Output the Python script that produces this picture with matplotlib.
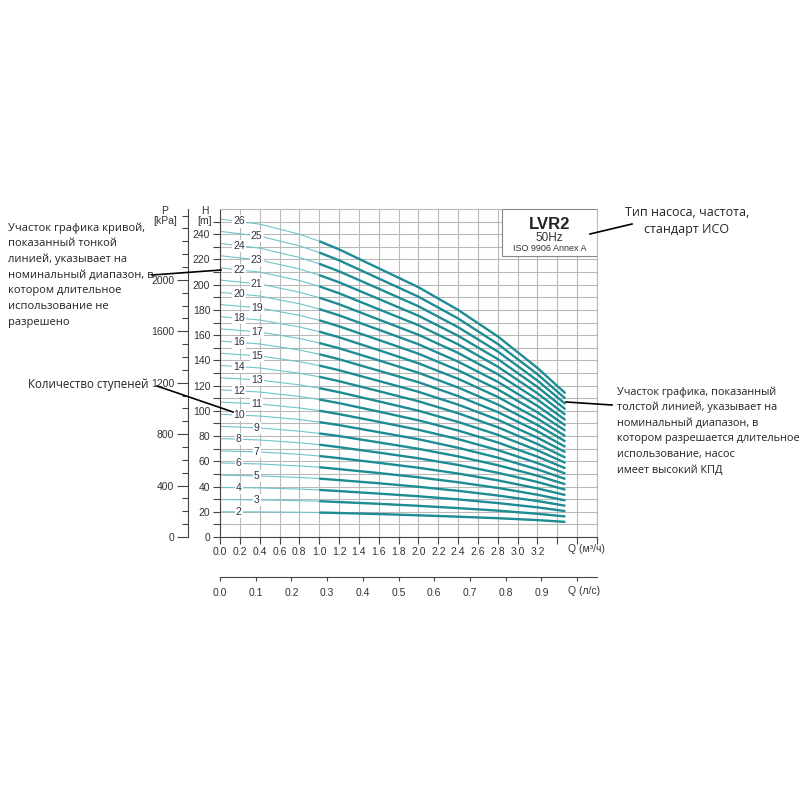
import numpy as np
import matplotlib
matplotlib.use("Agg")
import matplotlib.pyplot as plt
from matplotlib.lines import Line2D
from matplotlib.patches import Rectangle

q_points = [0.0, 0.4, 0.8, 1.0, 1.2, 1.6, 2.0, 2.4, 2.8, 3.2, 3.48]
q_thick_from = 1.0

stages = list(range(2, 27))
heads = [
	[20.0, 19.9, 19.6, 19.4, 19.0, 18.2, 17.2, 16.1, 14.9, 13.4, 12.0],
	[29.7, 29.4, 28.8, 28.4, 27.7, 26.3, 24.7, 22.9, 20.9, 18.4, 16.3],
	[39.3, 38.9, 38.0, 37.3, 36.4, 34.4, 32.3, 29.8, 26.9, 23.5, 20.5],
	[49.0, 48.4, 47.2, 46.3, 45.1, 42.6, 39.8, 36.6, 32.9, 28.5, 24.8],
	[58.7, 57.9, 56.3, 55.3, 53.8, 50.7, 47.3, 43.4, 38.9, 33.5, 29.0],
	[68.3, 67.4, 65.5, 64.2, 62.5, 58.8, 54.9, 50.3, 44.9, 38.5, 33.3],
	[78.0, 76.9, 74.7, 73.2, 71.2, 66.9, 62.4, 57.1, 50.9, 43.6, 37.5],
	[87.7, 86.4, 83.9, 82.1, 80.0, 75.0, 69.9, 63.9, 56.9, 48.6, 41.8],
	[97.3, 95.9, 93.1, 91.1, 88.7, 83.1, 77.5, 70.7, 62.9, 53.6, 46.0],
	[107.0, 105.4, 102.3, 100.1, 97.4, 91.3, 85.0, 77.6, 68.9, 58.6, 50.3],
	[116.7, 114.9, 111.4, 109.0, 106.1, 99.4, 92.5, 84.4, 74.9, 63.7, 54.5],
	[126.3, 124.4, 120.6, 118.0, 114.8, 107.5, 100.1, 91.2, 81.0, 68.7, 58.8],
	[136.0, 134.0, 129.8, 127.0, 123.5, 115.6, 107.6, 98.1, 87.0, 73.7, 63.0],
	[145.7, 143.5, 139.0, 135.9, 132.2, 123.7, 115.1, 104.9, 93.0, 78.7, 67.3],
	[155.3, 153.0, 148.2, 144.9, 140.9, 131.8, 122.7, 111.7, 99.0, 83.8, 71.5],
	[165.0, 162.5, 157.4, 153.8, 149.6, 140.0, 130.2, 118.5, 105.0, 88.8, 75.8],
	[174.7, 172.0, 166.5, 162.8, 158.3, 148.1, 137.7, 125.4, 111.0, 93.8, 80.0],
	[184.3, 181.5, 175.7, 171.8, 167.0, 156.2, 145.3, 132.2, 117.0, 98.8, 84.3],
	[194.0, 191.0, 184.9, 180.7, 175.7, 164.3, 152.8, 139.0, 123.0, 103.9, 88.5],
	[203.7, 200.5, 194.1, 189.7, 184.5, 172.4, 160.3, 145.9, 129.0, 108.9, 92.8],
	[213.3, 210.0, 203.3, 198.7, 193.2, 180.5, 167.9, 152.7, 135.0, 113.9, 97.0],
	[223.0, 219.5, 212.5, 207.6, 201.9, 188.7, 175.4, 159.5, 141.0, 118.9, 101.3],
	[232.7, 229.0, 221.6, 216.6, 210.6, 196.8, 182.9, 166.3, 147.0, 124.0, 105.5],
	[242.3, 238.5, 230.8, 225.5, 219.3, 204.9, 190.5, 173.2, 153.0, 129.0, 109.8],
	[252.0, 248.0, 240.0, 234.5, 228.0, 213.0, 198.0, 180.0, 159.0, 134.0, 114.0],
]

q_ticks = [0.0, 0.2, 0.4, 0.6, 0.8, 1.0, 1.2, 1.4, 1.6, 1.8, 2.0, 2.2, 2.4, 2.6, 2.8, 3.0, 3.2, 3.4, 3.6, 3.8]
q_labels = ["0.0", "0.2", "0.4", "0.6", "0.8", "1.0", "1.2", "1.4", "1.6", "1.8", "2.0", "2.2", "2.4", "2.6", "2.8", "3.0", "3.2", "", "", ""]
ls_ticks = [0.0, 0.1, 0.2, 0.3, 0.4, 0.5, 0.6, 0.7, 0.8, 0.9, 1.0]
ls_labels = ["0.0", "0.1", "0.2", "0.3", "0.4", "0.5", "0.6", "0.7", "0.8", "0.9", ""]
h_ticks = [0, 20, 40, 60, 80, 100, 120, 140, 160, 180, 200, 220, 240]
p_ticks = [0, 400, 800, 1200, 1600, 2000]

note_thin = ["Участок графика кривой,", "показанный тонкой", "линией, указывает на",
	"номинальный диапазон, в", "котором длительное", "использование не", "разрешено"]
note_stages = "Количество ступеней"
note_type = ["Тип насоса, частота,", "стандарт ИСО"]
note_thick = ["Участок графика, показанный", "толстой линией, указывает на",
	"номинальный диапазон, в", "котором разрешается длительное",
	"использование, насос", "имеет высокий КПД"]

THIN = "#6fc4cb"
THICK = "#1d8c93"
GRID = "#b9b9b9"
DARK = "#444444"

plt.rcParams['font.family'] = ['Liberation Sans', 'DejaVu Sans']

fig = plt.figure(figsize=(8, 8), dpi=100)
ax = fig.add_axes([0.275, 0.32875, 0.47125, 0.41])
ax.set_xlim(0, 3.8)
ax.set_ylim(0, 260)

# grid
ax.set_xticks(q_ticks)
ax.set_xticklabels(q_labels, fontsize=7.5, color="#333333")
ax.set_yticks(h_ticks)
ax.set_yticklabels([str(h) for h in h_ticks], fontsize=7.5, color="#333333")
ax.set_yticks(range(10, 260, 20), minor=True)
ax.grid(True, which="both", color=GRID, lw=0.8)
ax.set_axisbelow(True)
ax.tick_params(which="both", length=5, width=0.8, color=DARK, pad=2)
for s in ["top", "right"]:
	ax.spines[s].set_color(GRID)
for s in ["left", "bottom"]:
	ax.spines[s].set_color(DARK)

# curves
qa = np.array(q_points)
thick = qa >= q_thick_from
for n, h in zip(stages, heads):
	h = np.array(h)
	ax.plot(qa, h, color=THIN, lw=0.8, zorder=2)
	ax.plot(qa[thick], h[thick], color=THICK, lw=1.7, zorder=2, solid_capstyle="butt")
	ql = 0.19 if n % 2 == 0 else 0.37
	ax.text(ql, np.interp(ql, qa, h), str(n), fontsize=7.5, ha="center", va="center", color="#333333",
		zorder=4, bbox=dict(boxstyle="square,pad=0.1", fc="white", ec="none"))

# pressure axis
pax = ax.secondary_yaxis(-0.085, functions=(lambda h: h * 9.81, lambda p: p / 9.81))
pax.set_yticks(p_ticks)
pax.set_yticklabels([str(p) for p in p_ticks], fontsize=7.5, color="#333333")
pax.set_yticks(range(0, 2600, 100), minor=True)
pax.tick_params(which="major", length=8, width=0.8, color=DARK, pad=2)
pax.tick_params(which="minor", length=4, width=0.8, color=DARK)
pax.spines["left"].set_color(DARK)

# l/s axis
lax = ax.secondary_xaxis(-0.122, functions=(lambda q: q / 3.6, lambda l: l * 3.6))
lax.set_xticks(ls_ticks)
lax.set_xticklabels(ls_labels, fontsize=7.5, color="#333333")
lax.tick_params(length=3, width=0.8, color=DARK, pad=5)
lax.spines["bottom"].set_color(DARK)

ax.text(3.51, -0.036, "Q (м³/ч)", transform=ax.get_xaxis_transform(), fontsize=7.5, va="center", color="#333333")
ax.text(3.51, -0.165, "Q (л/с)", transform=ax.get_xaxis_transform(), fontsize=7.5, va="center", color="#333333")
fig.text(165 / 800, 1 - 216 / 800, "P\n[kPa]", fontsize=7.5, ha="center", va="center", color="#333333", linespacing=1.1)
fig.text(205 / 800, 1 - 216 / 800, "H\n[m]", fontsize=7.5, ha="center", va="center", color="#333333", linespacing=1.1)

# type box
ax.add_patch(Rectangle((0.748, 0.857), 0.252, 0.143, transform=ax.transAxes, fc="white", ec="#888888", lw=0.8, zorder=5))
ax.text(0.874, 0.954, "LVR2", transform=ax.transAxes, fontsize=12, fontweight="bold", ha="center", va="center", zorder=6, color="#222222")
ax.text(0.874, 0.912, "50Hz", transform=ax.transAxes, fontsize=8.5, ha="center", va="center", zorder=6, color="#333333")
ax.text(0.874, 0.881, "ISO 9906 Annex A", transform=ax.transAxes, fontsize=6.5, ha="center", va="center", zorder=6, color="#333333")

# notes around the chart
def px(x, y):
	return x / 800, 1 - y / 800

def link(x0, y0, x1, y1):
	a, b = px(x0, y0)
	c, d = px(x1, y1)
	fig.add_artist(Line2D([a, c], [b, d], color="black", lw=1.2, transform=fig.transFigure))

for i, line in enumerate(note_thin):
	fig.text(*px(8, 228 + i * 15.7), line, fontsize=8.0, family="Open Sans", va="center", color="#222222")
for i, line in enumerate(note_thick):
	fig.text(*px(617, 392 + i * 15.6), line, fontsize=7.8, family="Open Sans", va="center", color="#222222")
for i, line in enumerate(note_type):
	fig.text(*px(687, 213 + i * 17), line, fontsize=9.0, family="Open Sans", ha="center", va="center", color="#222222")
fig.text(*px(28, 385), note_stages, fontsize=8.3, family="Open Sans", va="center", color="#222222")

link(152, 275, 221, 270)
link(157, 386, 233, 412)
link(590, 234, 632, 224)
link(566, 402, 612, 405)

fig.savefig("out.png", dpi=100)
